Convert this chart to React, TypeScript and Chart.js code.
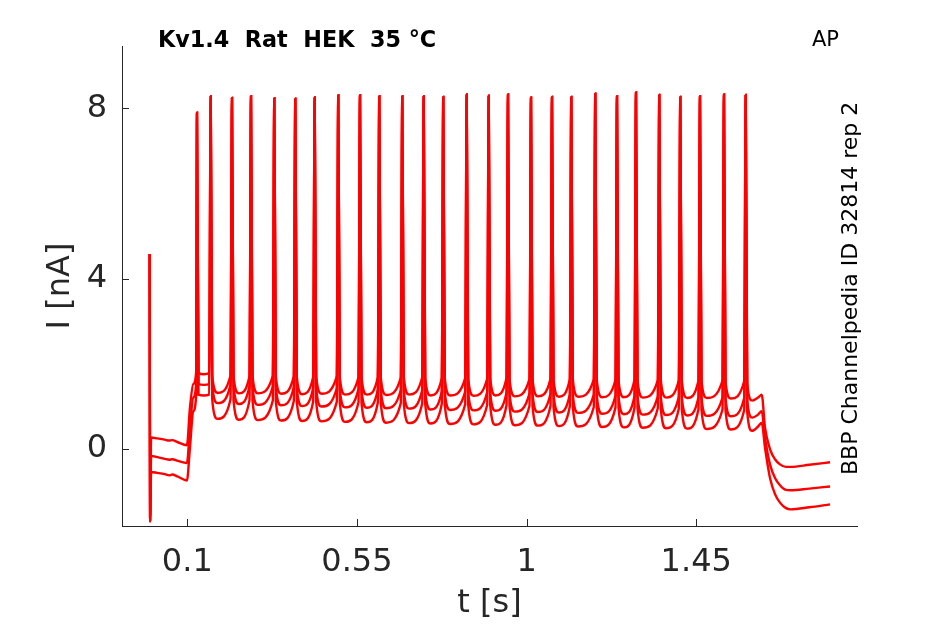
import React, { useEffect, useRef } from 'react';
import { Chart, registerables } from 'chart.js';

Chart.register(...registerables);

// axis ticks
const xTickValues = [0.1, 0.55, 1, 1.45];
const xTickLabels = ['0.1', '0.55', '1', '1.45'];
const yTickValues = [0, 4, 8];
const yTickLabels = ['0', '4', '8'];

// action potential times [s] and peak currents [nA], shared by the three sweeps
const spikeTimes = [
  0.1257, 0.1621, 0.2186, 0.269, 0.3308, 0.3865, 0.4379, 0.5005, 0.5581, 0.6093,
  0.6703, 0.7271, 0.779, 0.8411, 0.8995, 0.9507, 1.0117, 1.0674, 1.1186, 1.1822,
  1.2398, 1.2902, 1.352, 1.4077, 1.4599, 1.5236, 1.5812,
];
const spikePeaks = [
  7.9, 8.29, 8.25, 8.29, 8.24, 8.23, 8.26, 8.31, 8.31, 8.29, 8.29, 8.29, 8.27, 8.33,
  8.3, 8.33, 8.26, 8.27, 8.27, 8.35, 8.29, 8.38, 8.32, 8.27, 8.29, 8.33, 8.32,
];

// segment before the first spike (stimulus artefact, holding level, step)
const onsetTimes = [0, 0.0015, 0.004, 0.02, 0.04, 0.052, 0.06, 0.075, 0.099, 0.107, 0.116, 0.1235];
const upperOnset = [4.58, -1.71, 0.26, 0.24, 0.21, 0.19, 0.2, 0.15, 0.08, 0.96, 1.52, 1.8];
const middleOnset = [4.58, -1.71, -0.17, -0.2, -0.24, -0.26, -0.25, -0.29, -0.34, 0.49, 1.2, 1.53];
const lowerOnset = [4.58, -1.71, -0.55, -0.57, -0.6, -0.63, -0.61, -0.66, -0.75, 0.02, 0.88, 1.26];

// per inter-spike interval: trough level and level just before / after a spike
const upperTrough = [
  1.75, 1.31, 1.3, 1.3, 1.29, 1.28, 1.29, 1.27, 1.27, 1.26, 1.27, 1.25, 1.25,
  1.24, 1.25, 1.23, 1.23, 1.22, 1.22, 1.21, 1.21, 1.2, 1.2, 1.19, 1.19, 1.18,
];
const upperEdge = [
  1.78, 1.72, 1.71, 1.71, 1.7, 1.69, 1.7, 1.68, 1.68, 1.67, 1.68, 1.66, 1.66,
  1.65, 1.66, 1.64, 1.64, 1.63, 1.63, 1.62, 1.62, 1.61, 1.61, 1.6, 1.6, 1.59,
];
const middleTrough = [
  1.5, 1.07, 1.05, 1.03, 1.02, 1.0, 0.99, 0.97, 0.96, 0.95, 0.94, 0.92, 0.91,
  0.9, 0.89, 0.87, 0.86, 0.85, 0.84, 0.82, 0.81, 0.8, 0.79, 0.78, 0.77, 0.76,
];
const middleEdge = [
  1.52, 1.5, 1.48, 1.46, 1.45, 1.43, 1.42, 1.4, 1.39, 1.38, 1.37, 1.35, 1.34,
  1.33, 1.32, 1.3, 1.29, 1.28, 1.27, 1.25, 1.24, 1.23, 1.22, 1.21, 1.2, 1.19,
];
const lowerTrough = [
  1.25, 0.7, 0.68, 0.67, 0.66, 0.65, 0.64, 0.63, 0.62, 0.61, 0.6, 0.59, 0.58,
  0.57, 0.56, 0.55, 0.54, 0.53, 0.52, 0.51, 0.5, 0.49, 0.48, 0.47, 0.46, 0.45,
];
const lowerEdge = [
  1.27, 1.16, 1.14, 1.13, 1.12, 1.11, 1.1, 1.09, 1.08, 1.07, 1.06, 1.05, 1.04,
  1.03, 1.02, 1.01, 1.0, 0.99, 0.98, 0.97, 0.96, 0.95, 0.94, 0.93, 0.92, 0.91,
];

// segment after the last spike (step off and tail)
const endTimes = [1.5852, 1.598, 1.614, 1.6236, 1.6324, 1.6456, 1.6589, 1.6721, 1.688, 1.7, 1.75, 1.805];
const upperEnd = [1.55, 1.13, 1.2, 1.27, 0.49, -0.01, -0.25, -0.37, -0.43, -0.43, -0.38, -0.32];
const middleEnd = [1.15, 0.73, 0.8, 0.88, 0.25, -0.37, -0.69, -0.86, -0.97, -0.98, -0.94, -0.89];
const lowerEnd = [0.87, 0.42, 0.52, 0.61, 0.02, -0.69, -1.07, -1.27, -1.4, -1.43, -1.38, -1.31];

// waveform timing around each spike [s]
const POST_DELAY = 0.004;
const TROUGH_DELAY = 0.018;
const PRE_LEAD = 0.004;

const AXIS_COLOR = '#262626';
const TRACE_COLOR = '#ff0000';
const FONT = 'DejaVu Sans';

type Pt = { x: number; y: number };

function buildTrace(onset: number[], trough: number[], edge: number[], tail: number[]): Pt[] {
  const pts: Pt[] = [];
  onsetTimes.forEach((t, i) => pts.push({ x: t, y: onset[i] }));
  spikeTimes.forEach((t, i) => {
    pts.push({ x: t, y: spikePeaks[i] });
    if (i < spikeTimes.length - 1) {
      pts.push({ x: t + POST_DELAY, y: edge[i] });
      pts.push({ x: t + TROUGH_DELAY, y: trough[i] });
      pts.push({ x: spikeTimes[i + 1] - PRE_LEAD, y: edge[i] });
    }
  });
  endTimes.forEach((t, i) => pts.push({ x: t, y: tail[i] }));
  return pts;
}

const decorPlugin = {
  id: 'decor',
  afterDraw(chart: any) {
    const { ctx, chartArea, scales } = chart;
    ctx.save();
    ctx.strokeStyle = AXIS_COLOR;
    ctx.lineWidth = 1;
    xTickValues.forEach((v) => {
      const px = Math.round(scales.x.getPixelForValue(v)) + 0.5;
      ctx.beginPath();
      ctx.moveTo(px, chartArea.bottom);
      ctx.lineTo(px, chartArea.bottom - 7);
      ctx.stroke();
    });
    yTickValues.forEach((v) => {
      const py = Math.round(scales.y.getPixelForValue(v)) + 0.5;
      ctx.beginPath();
      ctx.moveTo(chartArea.left, py);
      ctx.lineTo(chartArea.left + 7, py);
      ctx.stroke();
    });

    ctx.fillStyle = '#000';
    ctx.textBaseline = 'alphabetic';
    ctx.textAlign = 'left';
    ctx.font = `bold 22.3px "${FONT}"`;
    ctx.fillText('Kv1.4  Rat  HEK  35 °C', 158, 47);
    ctx.font = `21px "${FONT}"`;
    ctx.fillText('AP', 812, 46);

    ctx.translate(857, 475);
    ctx.rotate(-Math.PI / 2);
    ctx.font = `22px "${FONT}"`;
    ctx.fillText('BBP Channelpedia ID 32814 rep 2', 0, 0);
    ctx.restore();
  },
};

export default function App() {
  const canvasRef = useRef<HTMLCanvasElement | null>(null);

  useEffect(() => {
    const canvas = canvasRef.current;
    if (!canvas) return;

    const traces = [
      buildTrace(upperOnset, upperTrough, upperEdge, upperEnd),
      buildTrace(middleOnset, middleTrough, middleEdge, middleEnd),
      buildTrace(lowerOnset, lowerTrough, lowerEdge, lowerEnd),
    ];

    const chart = new Chart(canvas, {
      type: 'line',
      data: {
        datasets: traces.map((data, i) => ({
          label: `sweep ${i + 1}`,
          data,
          borderColor: TRACE_COLOR,
          borderWidth: 2.4,
          pointRadius: 0,
          fill: false,
          cubicInterpolationMode: 'monotone' as const,
        })),
      },
      options: {
        responsive: false,
        animation: false,
        events: [],
        layout: { padding: { left: 0, right: 88, top: 46, bottom: 0 } },
        plugins: {
          legend: { display: false },
          tooltip: { enabled: false },
          title: { display: false },
        },
        scales: {
          x: {
            type: 'linear',
            min: -0.0732,
            max: 1.8764,
            afterFit: (s: any) => {
              s.height = 98;
            },
            afterBuildTicks: (s: any) => {
              s.ticks = xTickValues.map((value) => ({ value }));
            },
            grid: { display: false, drawTicks: false },
            border: { display: true, color: AXIS_COLOR, width: 1 },
            ticks: {
              padding: 17,
              maxRotation: 0,
              autoSkip: false,
              color: AXIS_COLOR,
              font: { family: FONT, size: 32 },
              callback: (_v: any, i: number) => xTickLabels[i],
            },
            title: {
              display: true,
              text: 't [s]',
              color: AXIS_COLOR,
              font: { family: FONT, size: 32 },
              padding: { top: 0, bottom: 1 },
            },
          },
          y: {
            type: 'linear',
            min: -1.82,
            max: 9.47,
            afterFit: (s: any) => {
              s.width = 122;
            },
            afterBuildTicks: (s: any) => {
              s.ticks = yTickValues.map((value) => ({ value }));
            },
            grid: { display: false, drawTicks: false },
            border: { display: true, color: AXIS_COLOR, width: 1 },
            ticks: {
              padding: 15,
              autoSkip: false,
              color: AXIS_COLOR,
              font: { family: FONT, size: 32 },
              callback: (_v: any, i: number) => yTickLabels[i],
            },
            title: {
              display: true,
              text: 'I [nA]',
              color: AXIS_COLOR,
              font: { family: FONT, size: 32 },
              padding: { top: 41, bottom: 0 },
            },
          },
        },
      },
      plugins: [decorPlugin],
    } as any);

    return () => chart.destroy();
  }, []);

  return (
    <div style={{ position: 'fixed', left: 0, top: 0, width: 945, height: 624, background: '#fff' }}>
      <canvas ref={canvasRef} width={945} height={624} style={{ display: 'block' }} />
    </div>
  );
}
